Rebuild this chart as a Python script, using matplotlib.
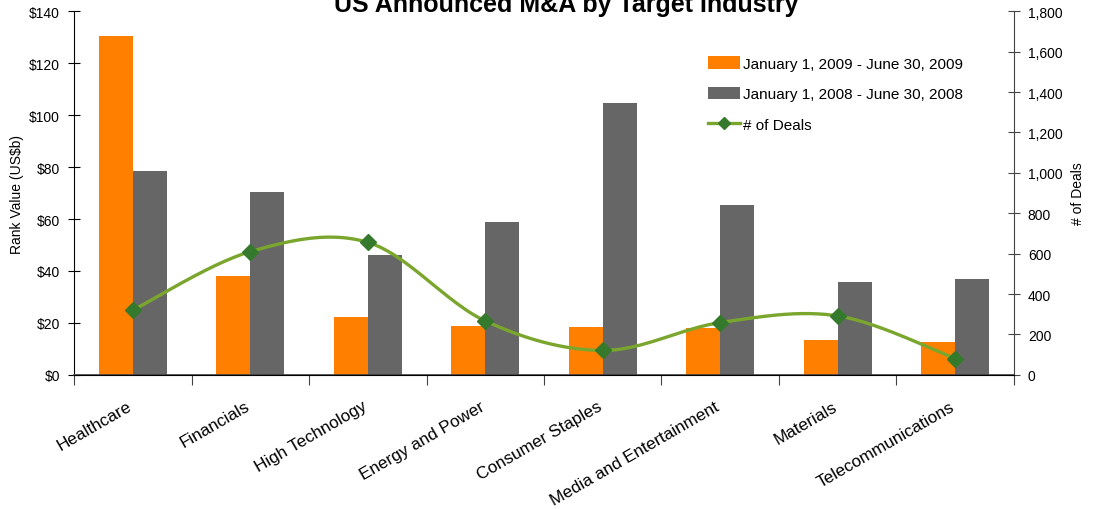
import numpy as np
import matplotlib
matplotlib.use("Agg")
import matplotlib.pyplot as plt

plt.rcParams["font.family"] = ["Liberation Sans", "DejaVu Sans"]

industries = ["Healthcare", "Financials", "High Technology", "Energy and Power",
              "Consumer Staples", "Media and Entertainment", "Materials",
              "Telecommunications"]
value_2009 = [130.5, 38.1, 22.4, 19.0, 18.6, 18.2, 13.6, 12.5]
value_2008 = [78.5, 70.4, 46.2, 58.8, 104.6, 65.4, 35.6, 37.0]
deals_2009 = [320, 610, 656, 267, 121, 259, 292, 81]

label_2009 = "January 1, 2009 - June 30, 2009"
label_2008 = "January 1, 2008 - June 30, 2008"
label_deals = "# of Deals"


def smooth_curve(x, y, steps=30):
    # Catmull-Rom through the points, like Excel's smoothed line
    x = np.asarray(x, float)
    y = np.asarray(y, float)
    px = np.concatenate([[x[0]], x, [x[-1]]])
    py = np.concatenate([[y[0]], y, [y[-1]]])
    xs, ys = [], []
    t = np.linspace(0, 1, steps)
    for i in range(1, len(px) - 2):
        p0x, p1x, p2x, p3x = px[i - 1:i + 3]
        p0y, p1y, p2y, p3y = py[i - 1:i + 3]
        c1x, c1y = p1x + (p2x - p0x) / 6, p1y + (p2y - p0y) / 6
        c2x, c2y = p2x - (p3x - p1x) / 6, p2y - (p3y - p1y) / 6
        bx = ((1 - t) ** 3 * p1x + 3 * (1 - t) ** 2 * t * c1x
              + 3 * (1 - t) * t ** 2 * c2x + t ** 3 * p2x)
        by = ((1 - t) ** 3 * p1y + 3 * (1 - t) ** 2 * t * c1y
              + 3 * (1 - t) * t ** 2 * c2y + t ** 3 * p2y)
        xs.extend(bx)
        ys.extend(by)
    return np.array(xs), np.array(ys)


orange = "#FF8000"
grey = "#666666"
line_green = "#7BA62E"
marker_green = "#357A2C"

fig = plt.figure(figsize=(10.95, 5.10), dpi=100)
ax = fig.add_axes([0.0676, 0.263, 0.8584, 0.713])
ax2 = ax.twinx()

x = np.arange(len(industries))
w = 0.29
b1 = ax.bar(x - w / 2, value_2009, w, color=orange, label=label_2009, zorder=2)
b2 = ax.bar(x + w / 2, value_2008, w, color=grey, label=label_2008, zorder=2)

sx, sy = smooth_curve(x, deals_2009)
ax2.plot(sx, sy, color=line_green, lw=2.4, solid_capstyle="round", zorder=3)
ax2.plot(x, deals_2009, ls="none", marker="D", ms=8, color=marker_green, zorder=4)
line_handle = plt.Line2D([], [], color=line_green, lw=2.4, marker="D", ms=6,
                         markerfacecolor=marker_green, markeredgecolor=marker_green)

ax.set_xlim(-0.5, len(industries) - 0.5)
ax.set_ylim(0, 140)
ax2.set_ylim(0, 1800)
ax.set_yticks(np.arange(0, 141, 20))
ax.set_yticklabels([f"${v}" for v in range(0, 141, 20)], fontsize=10)
ax2.set_yticks(np.arange(0, 1801, 200))
ax2.set_yticklabels([f"{v:,}" for v in range(0, 1801, 200)], fontsize=10)

ax.set_xticks(np.arange(-0.5, len(industries), 1.0))
ax.set_xticklabels([])
ax.tick_params(axis="x", direction="out", length=7, color="#444444")
for xi, name in zip(x, industries):
    ax.text(xi - 0.05, -9, name, rotation=30, ha="right", va="top",
            rotation_mode="anchor", fontsize=12.3)

ax.tick_params(axis="y", direction="inout", length=8, pad=6)
ax2.tick_params(axis="y", direction="inout", length=8, pad=6, color="#444444")

for a in (ax, ax2):
    a.spines["top"].set_visible(False)
ax.spines["right"].set_visible(False)
ax2.spines["left"].set_visible(False)
ax2.spines["right"].set_color("#444444")
ax.spines["bottom"].set_color("#444444")
ax.spines["bottom"].set_linewidth(1.2)

ax.set_ylabel("Rank Value (US$b)", fontsize=10, labelpad=4)
ax2.set_ylabel("# of Deals", fontsize=10, rotation=90, labelpad=6)

# title sits partly above the top edge, as in the source image
fig.text(0.517, 0.99, "US Announced M&A by Target Industry", ha="center",
         va="center", fontsize=18, fontweight="bold")

ax.legend([b1, b2, line_handle], [label_2009, label_2008, label_deals],
          loc="upper left", bbox_to_anchor=(0.66, 0.915), frameon=False,
          fontsize=11, handlelength=2.1, handletextpad=0.15, labelspacing=1.05,
          handleheight=0.9)

fig.savefig("out.png", dpi=100)
